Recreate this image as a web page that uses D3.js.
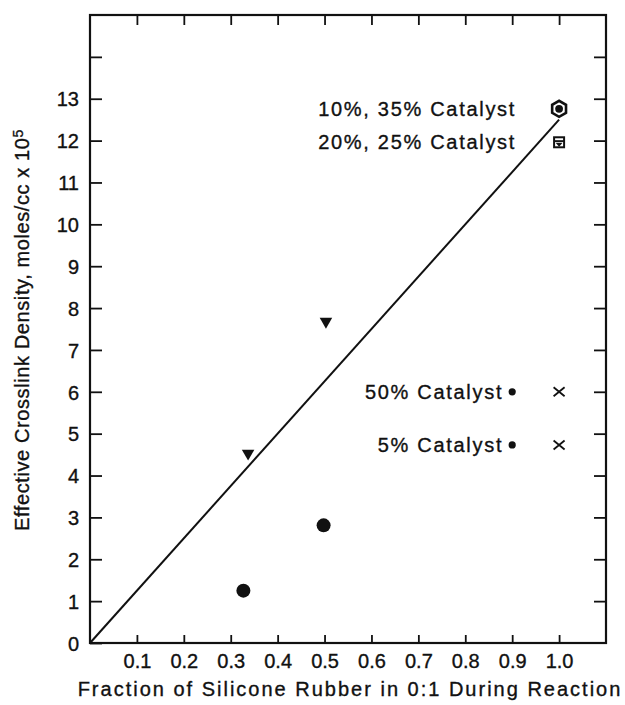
<!DOCTYPE html>
<html>
<head>
<meta charset="utf-8">
<script src="https://cdn.jsdelivr.net/npm/d3@7"></script>
<style>
  body { margin: 0; background: #fff; }
  text { font-family: "Liberation Sans", Arial, sans-serif; fill: #111; stroke: #111; stroke-width: 0.35px; }
</style>
</head>
<body>
<div id="grafico"></div>
<script>
const WIDTH = 625;
const HEIGHT = 705;

// axis ticks
const xTickValues = [0.1, 0.2, 0.3, 0.4, 0.5, 0.6, 0.7, 0.8, 0.9, 1.0];
const xTickLabels = ["0.1", "0.2", "0.3", "0.4", "0.5", "0.6", "0.7", "0.8", "0.9", "1.0"];
const yTickValues = [0, 1, 2, 3, 4, 5, 6, 7, 8, 9, 10, 11, 12, 13, 14];
const yTickLabels = ["0", "1", "2", "3", "4", "5", "6", "7", "8", "9", "10", "11", "12", "13", ""];

// measured points
const triangleX = [0.337, 0.503];
const triangleY = [4.53, 7.68];
const circleX = [0.327, 0.498];
const circleY = [1.25, 2.81];

// catalyst points at fraction 1.0
const catalystLabels = ["10%, 35% Catalyst", "20%, 25% Catalyst", "50% Catalyst", "5% Catalyst"];
const catalystX = [1.0, 1.0, 1.0, 1.0];
const catalystY = [12.76, 11.96, 6.0, 4.73];
const catalystMarks = ["hexagon", "square", "cross", "cross"];
const dotX = [0.9, 0.9];
const dotY = [6.0, 4.73];

// fitted line
const fitX = [0, 1.0];
const fitY = [0, 12.5];

let svg = d3.select("#grafico")
    .append("svg")
    .attr("width", WIDTH)
    .attr("height", HEIGHT);

let x = d3.scaleLinear().domain([0, 1.1]).range([90, 606]);
let y = d3.scaleLinear().domain([0, 15]).range([643, 15]);

// axes, ticks pointing inward
svg.append("g")
    .attr("transform", `translate(0,${y(0)})`)
    .call(d3.axisBottom(x).tickValues(xTickValues)
        .tickFormat((d, i) => xTickLabels[i])
        .tickSize(-8).tickPadding(11))
    .call(g => g.selectAll("text").style("font-size", "20px"));

svg.append("g")
    .attr("transform", `translate(0,${y(15)})`)
    .call(d3.axisTop(x).tickValues(xTickValues).tickFormat("").tickSize(-10));

svg.append("g")
    .attr("transform", `translate(${x(0)},0)`)
    .call(d3.axisLeft(y).tickValues(yTickValues)
        .tickFormat((d, i) => yTickLabels[i])
        .tickSize(-12).tickPadding(11))
    .call(g => g.selectAll("text").style("font-size", "20px").attr("dy", "0.36em"));

svg.append("g")
    .attr("transform", `translate(${x(1.1)},0)`)
    .call(d3.axisRight(y).tickValues(yTickValues.slice(1)).tickFormat("").tickSize(-12));

svg.selectAll(".domain").remove();
svg.selectAll(".tick line")
    .attr("stroke", "#111")
    .attr("stroke-width", 1.8);

svg.append("rect")
    .attr("x", x(0))
    .attr("y", y(15))
    .attr("width", x(1.1) - x(0))
    .attr("height", y(0) - y(15))
    .attr("fill", "none")
    .attr("stroke", "#111")
    .attr("stroke-width", 2.2);

// fitted line
let fit = fitX.map((d, i) => [d, fitY[i]]);
svg.append("path")
    .datum(fit)
    .attr("d", d3.line().x(d => x(d[0])).y(d => y(d[1])))
    .attr("fill", "none")
    .attr("stroke", "#111")
    .attr("stroke-width", 2);

// inverted triangles
svg.selectAll(".tri")
    .data(triangleX.map((d, i) => [d, triangleY[i]]))
    .enter()
    .append("path")
    .attr("class", "tri")
    .attr("d", d3.symbol(d3.symbolTriangle).size(68))
    .attr("transform", d => `translate(${x(d[0])},${y(d[1])}) rotate(180)`)
    .attr("fill", "#111");

// filled circles
svg.selectAll(".dot")
    .data(circleX.map((d, i) => [d, circleY[i]]))
    .enter()
    .append("circle")
    .attr("class", "dot")
    .attr("cx", d => x(d[0]))
    .attr("cy", d => y(d[1]))
    .attr("r", 7)
    .attr("fill", "#111");

// small dots beside the catalyst labels
svg.selectAll(".small")
    .data(dotX.map((d, i) => [d, dotY[i]]))
    .enter()
    .append("circle")
    .attr("class", "small")
    .attr("cx", d => x(d[0]))
    .attr("cy", d => y(d[1]))
    .attr("r", 3.6)
    .attr("fill", "#111");

function hexagon(r) {
    let pts = d3.range(6).map(k => {
        let a = Math.PI / 6 + k * Math.PI / 3;
        return [r * Math.cos(a), r * Math.sin(a)];
    });
    return d3.line()(pts) + "Z";
}

let marks = svg.selectAll(".mark")
    .data(catalystMarks.map((m, i) => ({m: m, cx: x(catalystX[i]), cy: y(catalystY[i])})))
    .enter()
    .append("g")
    .attr("class", "mark")
    .attr("transform", d => `translate(${d.cx},${d.cy})`);

marks.filter(d => d.m === "hexagon").each(function() {
    let g = d3.select(this);
    g.append("path").attr("d", hexagon(8))
        .attr("fill", "#fff").attr("stroke", "#111").attr("stroke-width", 2.6);
    g.append("circle").attr("r", 3.9).attr("fill", "#111");
});

marks.filter(d => d.m === "square").each(function() {
    let g = d3.select(this);
    g.append("rect").attr("x", -5).attr("y", -5).attr("width", 10).attr("height", 10)
        .attr("fill", "#fff").attr("stroke", "#111").attr("stroke-width", 2);
    g.append("line").attr("x1", -5).attr("x2", 5).attr("y1", -1.2).attr("y2", -1.2)
        .attr("stroke", "#111").attr("stroke-width", 1.8);
    g.append("path").attr("d", "M-3.5,0.5L3.5,0.5L0,4.5Z").attr("fill", "#111");
});

marks.filter(d => d.m === "cross").each(function() {
    let g = d3.select(this);
    g.append("path").attr("d", "M-5.5,-4.5L5.5,4.5M-5.5,4.5L5.5,-4.5")
        .attr("stroke", "#111").attr("stroke-width", 1.8);
});

// catalyst labels
svg.selectAll(".label")
    .data(catalystLabels)
    .enter()
    .append("text")
    .attr("class", "label")
    .attr("x", (d, i) => catalystMarks[i] === "cross" ? x(dotX[i - 2]) - 9 : x(catalystX[i]) - 43)
    .attr("y", (d, i) => y(catalystY[i]))
    .attr("dy", "0.36em")
    .attr("text-anchor", "end")
    .style("font-size", "20px")
    .style("letter-spacing", "1.7px")
    .text(d => d);

// axis titles
svg.append("text")
    .attr("x", 350)
    .attr("y", 696)
    .attr("text-anchor", "middle")
    .style("font-size", "20px")
    .style("letter-spacing", "2px")
    .text("Fraction of Silicone Rubber in 0:1 During Reaction");

let yTitle = svg.append("text")
    .attr("transform", "translate(29,330) rotate(-90)")
    .attr("text-anchor", "middle")
    .style("font-size", "20px")
    .style("letter-spacing", "0.6px");
yTitle.append("tspan").text("Effective Crosslink Density, moles/cc x 10");
yTitle.append("tspan")
    .attr("dy", "-0.45em")
    .style("font-size", "14px")
    .text("5");
</script>
</body>
</html>
